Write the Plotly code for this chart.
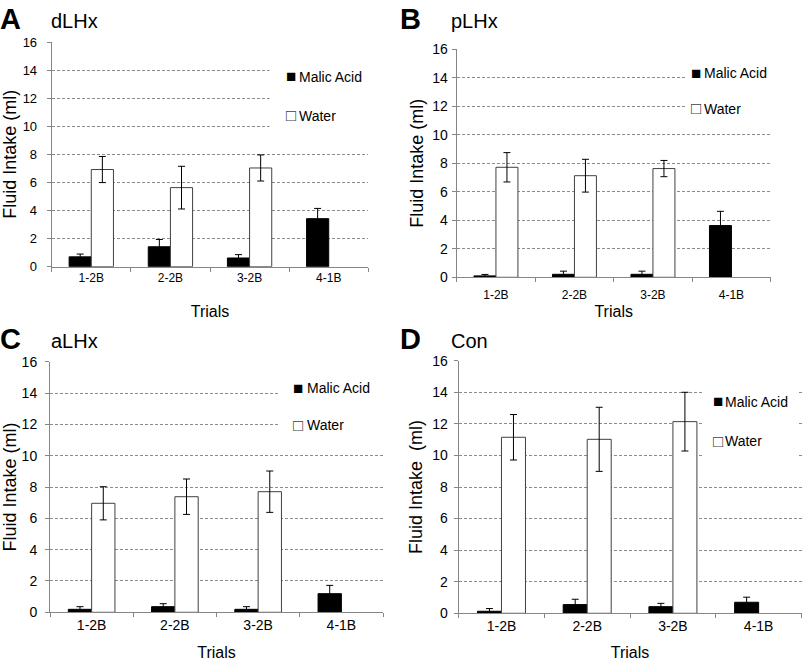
import plotly.graph_objects as go

W, H = 803, 663
FONT = "Liberation Sans, Arial, sans-serif"

categories = ["1-2B", "2-2B", "3-2B", "4-1B"]
series_names = ["Malic Acid", "Water"]

# Panel A - dLHx
a_malic = [0.70, 1.42, 0.62, 3.42]
a_malic_err = [0.20, 0.52, 0.24, 0.73]
a_water = [6.92, 5.63, 7.03, None]
a_water_err = [0.93, 1.52, 0.93, None]

# Panel B - pLHx
b_malic = [0.10, 0.21, 0.21, 3.63]
b_malic_err = [0.10, 0.22, 0.22, 1.00]
b_water = [7.72, 7.13, 7.63, None]
b_water_err = [1.03, 1.15, 0.57, None]

# Panel C - aLHx
c_malic = [0.19, 0.36, 0.19, 1.19]
c_malic_err = [0.17, 0.19, 0.17, 0.53]
c_water = [6.96, 7.38, 7.70, None]
c_water_err = [1.06, 1.13, 1.32, None]

# Panel D - Con
d_malic = [0.13, 0.55, 0.42, 0.70]
d_malic_err = [0.17, 0.34, 0.21, 0.32]
d_water = [11.15, 11.02, 12.14, None]
d_water_err = [1.44, 2.03, 1.86, None]

y_ticks = [0, 2, 4, 6, 8, 10, 12, 14, 16]
Y_MAX = 16

panels = [
    dict(letter="A", name="dLHx", malic=a_malic, me=a_malic_err, water=a_water, we=a_water_err,
         px=(51.7, 368.3), py=(42.0, 266.7), tick=13, xt=12, ytitle="Fluid Intake (ml)",
         ystand=7, xstand=0, xtstand=21, ytstand=5,
         sym_x=290.8, txt_x=297.7, item_y=(76.5, 115.5), mask=(269, 368.3, 56, 134), lpos=(0, 0)),
    dict(letter="B", name="pLHx", malic=b_malic, me=b_malic_err, water=b_water, we=b_water_err,
         px=(456.7, 770.7), py=(49.3, 277.3), tick=14, xt=12, ytitle="Fluid Intake (ml)",
         ystand=1, xstand=6, xtstand=5, ytstand=4,
         sym_x=696.3, txt_x=703.3, item_y=(73.0, 109.0), mask=(685, 770.7, 62, 122), lpos=(400, 0)),
    dict(letter="C", name="aLHx", malic=c_malic, me=c_malic_err, water=c_water, we=c_water_err,
         px=(50.0, 383.0), py=(361.7, 612.3), tick=14, xt=14, ytitle="Fluid Intake (ml)",
         ystand=5, xstand=0, xtstand=14, ytstand=4,
         sym_x=298.3, txt_x=305.7, item_y=(388.0, 425.0), mask=(278, 383.0, 378, 440), lpos=(0, 320)),
    dict(letter="D", name="Con", malic=d_malic, me=d_malic_err, water=d_water, we=d_water_err,
         px=(458.6, 801.5), py=(360.7, 613.3), tick=14, xt=14, ytitle="Fluid Intake\u00a0 (ml)",
         ystand=3, xstand=0, xtstand=13, ytstand=4,
         sym_x=718.0, txt_x=724.3, item_y=(401.7, 441.0), mask=(703, 796.7, 378, 466), lpos=(400, 320)),
]

fig = go.Figure()
annotations = []
layout = dict(
    width=W, height=H,
    margin=dict(l=0, r=0, t=0, b=0, autoexpand=False),
    paper_bgcolor="white", plot_bgcolor="white",
    barmode="group", bargap=0.44, bargroupgap=0.0,
    font=dict(family=FONT, color="black"),
    showlegend=False,
)


def ann(text, x, y, size, xanchor="left", yanchor="middle", **kw):
    d = dict(text=text, x=x / W, y=1 - y / H, xref="paper", yref="paper",
             xanchor=xanchor, yanchor=yanchor, showarrow=False, borderpad=0,
             font=dict(size=size, family=kw.pop("family", FONT), color=kw.pop("color", "black")))
    d.update(kw)
    return d


ncat = len(categories)
for i, p in enumerate(panels):
    n = "" if i == 0 else str(i + 1)
    xa, ya = "x" + n, "y" + n
    fig.add_trace(go.Bar(
        x=categories, y=p["malic"], name=series_names[0], xaxis=xa, yaxis=ya,
        marker=dict(color="black", line=dict(color="black", width=1)),
        error_y=dict(type="data", array=p["me"], color="black", thickness=1, width=3.5),
    ))
    fig.add_trace(go.Bar(
        x=categories, y=p["water"], name=series_names[1], xaxis=xa, yaxis=ya,
        marker=dict(color="white", line=dict(color="#404040", width=1)),
        error_y=dict(type="data", array=p["we"], color="black", thickness=1, width=3.5),
    ))
    x0, x1 = p["px"]
    yt, yb = p["py"]
    layout["xaxis" + n] = dict(
        domain=[x0 / W, x1 / W], anchor=ya, type="category",
        range=[-0.5, ncat - 0.5],
        showline=True, linecolor="#868686", linewidth=1,
        ticks="outside", ticklen=4, tickcolor="#868686", tickson="boundaries",
        tickfont=dict(size=p["xt"], family=FONT, color="black"),
        ticklabelstandoff=p["xstand"],
        showgrid=False, zeroline=False,
        title=dict(text="Trials", font=dict(size=16, family=FONT, color="black"),
                   standoff=p["xtstand"]),
    )
    layout["yaxis" + n] = dict(
        domain=[1 - yb / H, 1 - yt / H], anchor=xa, range=[0, Y_MAX],
        tickvals=y_ticks, showline=True, linecolor="#868686", linewidth=1,
        ticks="outside", ticklen=4, tickcolor="#868686",
        tickfont=dict(size=p["tick"], family=FONT, color="black"),
        showgrid=True, gridcolor="#8c8c8c", gridwidth=1, griddash="3px,2px",
        zeroline=False, ticklabelstandoff=p["ystand"],
        title=dict(text=p["ytitle"], font=dict(size=18, family=FONT, color="black"),
                   standoff=p["ytstand"]),
    )
    # legend: white box hiding the gridlines, then swatches and labels
    mx0, mx1, my0, my1 = p["mask"]
    annotations.append(ann("\u00a0", mx0, my0, 10, xanchor="left", yanchor="top",
                           bgcolor="white", width=mx1 - mx0, height=my1 - my0))
    ym, yw = p["item_y"]
    annotations.append(ann("\u25a0", p["sym_x"], ym, 17, xanchor="center"))
    annotations.append(ann("\u25a1", p["sym_x"], yw, 17, xanchor="center", color="#404040"))
    annotations.append(ann(series_names[0], p["txt_x"], ym, 14))
    annotations.append(ann(series_names[1], p["txt_x"], yw, 14))
    # panel letter and group name
    ox, oy = p["lpos"]
    annotations.append(ann("<b>" + p["letter"] + "</b>", ox - 1.5, oy + 18.5, 29))
    annotations.append(ann(p["name"], ox + 50, oy + 21.5, 20))

layout["annotations"] = annotations
fig.update_layout(**layout)
fig.write_html("out.html", config={"displayModeBar": False},
               post_script="document.body.style.margin='0';")
